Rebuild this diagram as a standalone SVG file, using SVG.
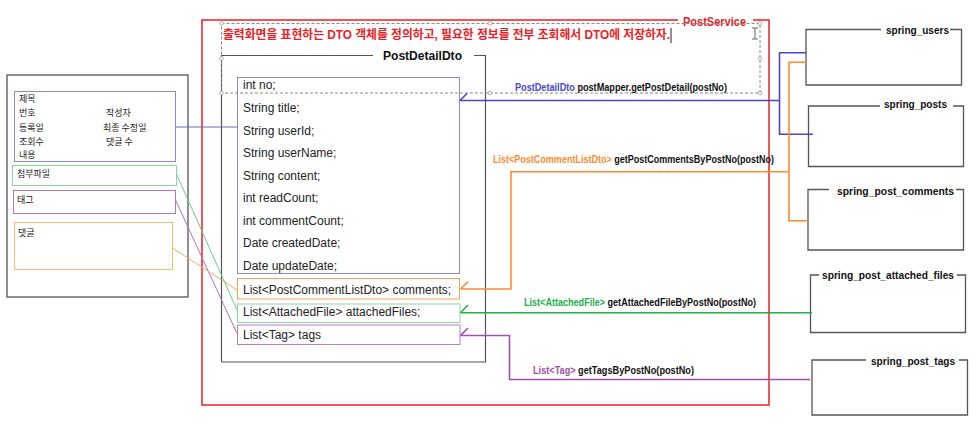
<svg xmlns="http://www.w3.org/2000/svg" width="980" height="429" viewBox="0 0 980 429">
<style>
text{font-family:"Liberation Sans","Noto Sans CJK KR",sans-serif;}
.k{font-family:"Noto Sans CJK KR","Noto Sans",sans-serif;font-size:9px;fill:#222;}
.f{font-size:12px;fill:#222;}
.lbl{font-size:10px;font-weight:bold;fill:#111;}
.tt{font-size:11px;font-weight:bold;fill:#111;}
.tb{fill:none;stroke:#555;stroke-width:1.3;}
.h{fill:#fff;stroke:#999;stroke-width:0.8;}
</style>
<rect width="980" height="429" fill="#fff"/>

<g id="screen">
<rect x="7" y="75" width="181" height="222" fill="none" stroke="#555" stroke-width="1.3"/>
<rect x="14.5" y="91.5" width="161" height="70" fill="none" stroke="#8a8ad0" stroke-width="1"/>
<text class="k" x="19" y="101.5">제목</text>
<text class="k" x="19" y="115.5">번호</text>
<text class="k" x="106" y="115.5">작성자</text>
<text class="k" x="19" y="130.5">등록일</text>
<text class="k" x="103" y="130.5">최종 수정일</text>
<text class="k" x="19" y="145">조회수</text>
<text class="k" x="106" y="145">댓글 수</text>
<text class="k" x="19" y="157.5">내용</text>
<rect x="12.5" y="165.5" width="164" height="20" fill="none" stroke="#88d8a0" stroke-width="1"/>
<text class="k" x="17" y="176.5">첨부파일</text>
<rect x="13.5" y="190.5" width="162" height="23" fill="none" stroke="#a878b8" stroke-width="1"/>
<text class="k" x="17" y="203">태그</text>
<rect x="14.5" y="222.5" width="158" height="47" fill="none" stroke="#f8b878" stroke-width="1"/>
<text class="k" x="18" y="236">댓글</text>
</g>

<g id="PostService">
<rect x="202" y="20" width="567" height="385" fill="none" stroke="#ee1c25" stroke-width="1.5"/>
<rect x="678" y="13" width="75" height="12" fill="#fff"/>
<text x="683" y="26" font-size="13" font-weight="bold" fill="#ee1c25" textLength="63" lengthAdjust="spacingAndGlyphs">PostService</text>
</g>

<g id="note">
<text x="223" y="39" font-family="Noto Sans CJK KR, sans-serif" font-size="12" font-weight="bold" fill="#ee1c25" textLength="447" lengthAdjust="spacingAndGlyphs">출력화면을 표현하는 DTO  객체를 정의하고, 필요한 정보를 전부 조회해서 DTO에 저장하자.</text>
<line x1="671" y1="28" x2="671" y2="43" stroke="#222" stroke-width="1"/>
<path d="M752 28h6M755 28v11M752 39h6" fill="none" stroke="#666" stroke-width="1"/>
</g>

<g id="PostDetailDto">
<path d="M221.5 362V55.5H373M474 55.5H485.5V362H221.5" fill="none" stroke="#555" stroke-width="1.2"/>
<text x="383" y="60" font-size="13" font-weight="bold" fill="#111" textLength="79" lengthAdjust="spacingAndGlyphs">PostDetailDto</text>
<rect x="237.5" y="77.5" width="222" height="196" fill="#fff" stroke="#8a8ad0" stroke-width="1"/>
<text class="f" x="243" y="89">int no;</text>
<text class="f" x="243" y="112">String title;</text>
<text class="f" x="243" y="134.5">String userId;</text>
<text class="f" x="243" y="157">String userName;</text>
<text class="f" x="243" y="179.5">String content;</text>
<text class="f" x="243" y="202">int readCount;</text>
<text class="f" x="243" y="225">int commentCount;</text>
<text class="f" x="243" y="247">Date createdDate;</text>
<text class="f" x="243" y="269.5">Date updateDate;</text>
<rect x="237.5" y="278.5" width="222" height="20.5" fill="#fff" stroke="#f5a45a" stroke-width="1"/>
<text class="f" x="243" y="293.5">List&lt;PostCommentListDto&gt; comments;</text>
<rect x="237.5" y="304" width="222.5" height="18.5" fill="#fff" stroke="#88d8a0" stroke-width="1"/>
<text class="f" x="243" y="316">List&lt;AttachedFile&gt; attachedFiles;</text>
<rect x="237.5" y="325" width="222.5" height="19.5" fill="#fff" stroke="#b57fc0" stroke-width="1"/>
<text class="f" x="243" y="338.5">List&lt;Tag&gt; tags</text>
</g>

<g id="selection">
<rect x="221.5" y="23.5" width="538.5" height="69.5" fill="none" stroke="#888" stroke-width="1" stroke-dasharray="3,2"/>
<circle class="h" cx="221.5" cy="23.5" r="1.8"/>
<circle class="h" cx="490" cy="23.5" r="1.8"/>
<circle class="h" cx="760" cy="23.5" r="1.8"/>
<circle class="h" cx="221.5" cy="58.5" r="1.8"/>
<circle class="h" cx="760" cy="58.5" r="1.8"/>
<circle class="h" cx="221.5" cy="93" r="1.8"/>
<circle class="h" cx="490" cy="93" r="1.8"/>
<circle class="h" cx="760" cy="93" r="1.8"/>
</g>

<g id="spring_users">
<path class="tb" d="M881 29.5H806V85H961.5V29.5H950"/>
<text class="tt" x="886" y="34" textLength="63" lengthAdjust="spacingAndGlyphs">spring_users</text>
</g>
<g id="spring_posts">
<path class="tb" d="M880 106H808.5V166.5H963.5V106H953"/>
<text class="tt" x="884" y="107.5" textLength="63" lengthAdjust="spacingAndGlyphs">spring_posts</text>
</g>
<g id="spring_post_comments">
<path class="tb" d="M829 189.5H808V250H963.5V189.5H956" stroke="#777"/>
<text class="tt" x="837" y="194.5" textLength="117" lengthAdjust="spacingAndGlyphs">spring_post_comments</text>
</g>
<g id="spring_post_attached_files">
<path class="tb" d="M819 275H810.5V332.5H965.5V275H957"/>
<text class="tt" x="822" y="279" textLength="132" lengthAdjust="spacingAndGlyphs">spring_post_attached_files</text>
</g>
<g id="spring_post_tags">
<path class="tb" d="M866 360H812V415H967.5V360H959"/>
<text class="tt" x="871" y="364.5" textLength="84" lengthAdjust="spacingAndGlyphs">spring_post_tags</text>
</g>

<g id="connectors" fill="none">
<line x1="176" y1="127" x2="237.5" y2="127" stroke="#6a6ab8" stroke-width="1"/>
<line x1="176.5" y1="174" x2="237" y2="310" stroke="#70c890" stroke-width="1"/>
<line x1="175.5" y1="200" x2="237" y2="333.5" stroke="#b070c0" stroke-width="1"/>
<line x1="172.5" y1="248" x2="237" y2="290" stroke="#f0a868" stroke-width="1"/>

<path d="M806 52.7H779.5V134.3H813M779.5 100.5H460M460 100.5L467 93.5" stroke="#4646d0" stroke-width="1.6"/>
<path d="M807 62.3H789V220.7H809M789 171.7H511V289H460.5M460.5 289L468 281.5" stroke="#ff8a30" stroke-width="1.6"/>
<path d="M812 312.7H460.5M460.5 312.7L468 305" stroke="#20b048" stroke-width="1.6"/>
<path d="M810 379.5H509.5V335.5H460.5M460.5 335.5L468 328" stroke="#a050a8" stroke-width="1.6"/>

<text class="lbl" x="515" y="91" textLength="212" lengthAdjust="spacingAndGlyphs"><tspan fill="#4646d0">PostDetailDto</tspan> postMapper.getPostDetail(postNo)</text>
<text class="lbl" x="493" y="163" textLength="281" lengthAdjust="spacingAndGlyphs"><tspan fill="#ff8a30">List&lt;PostCommentListDto&gt;</tspan>  getPostCommentsByPostNo(postNo)</text>
<text class="lbl" x="524" y="306" textLength="232" lengthAdjust="spacingAndGlyphs"><tspan fill="#20b048">List&lt;AttachedFile&gt;</tspan>  getAttachedFileByPostNo(postNo)</text>
<text class="lbl" x="533" y="374" textLength="161" lengthAdjust="spacingAndGlyphs"><tspan fill="#a050a8">List&lt;Tag&gt;</tspan>  getTagsByPostNo(postNo)</text>
</g>
</svg>
